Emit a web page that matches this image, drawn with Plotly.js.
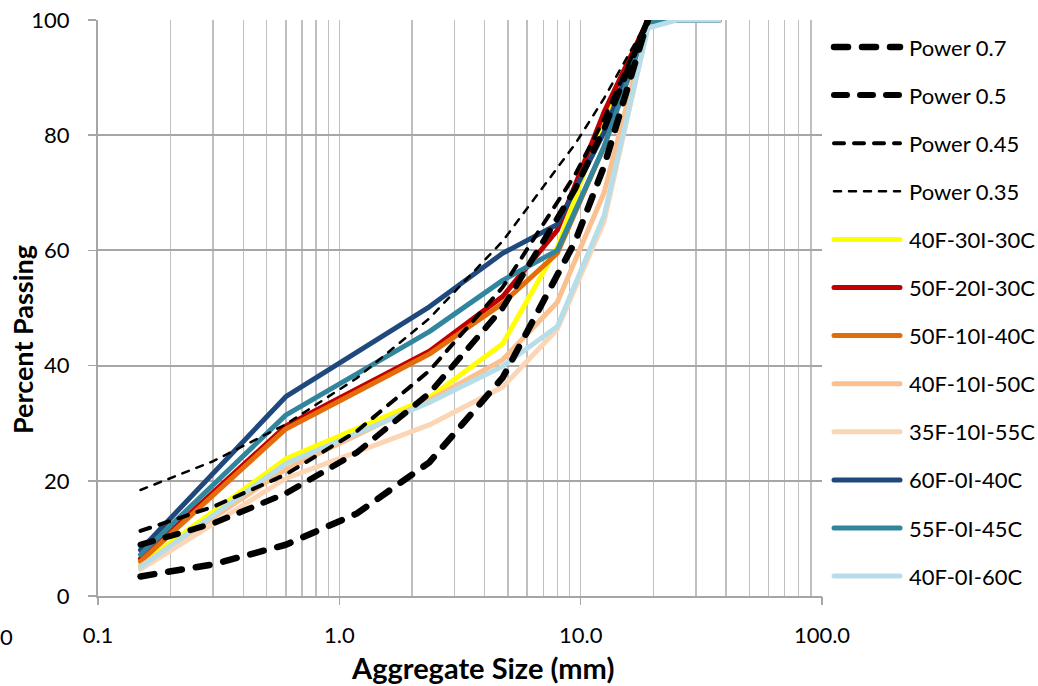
<!DOCTYPE html>
<html>
<head>
<meta charset="utf-8">
<script src="https://cdn.plot.ly/plotly-3.0.1.min.js"></script>
<style>
  html, body { margin: 0; padding: 0; background: #ffffff; }
  #chart { width: 1038px; height: 686px; }
  /* rounded dash ends and joints, as in the original spreadsheet chart */
  .scatterlayer .js-line { stroke-linecap: round; stroke-linejoin: round; }
  .shapelayer path { stroke-linecap: round; }
</style>
</head>
<body>
<div id="chart"></div>
<script>
// Sieve sizes (mm) for the maximum-density power curves
const powerSizes = [0.15, 0.3, 0.6, 1.18, 2.36, 4.75, 9.5, 12.5, 19];
const power07  = [3.4, 5.5, 8.9, 14.3, 23.2, 37.9, 61.6, 74.6, 100];
const power05  = [8.9, 12.6, 17.8, 24.9, 35.2, 50.0, 70.7, 81.1, 100];
const power045 = [11.3, 15.5, 21.1, 28.6, 39.1, 53.6, 73.2, 82.8, 100];
const power035 = [18.4, 23.4, 29.8, 37.8, 48.2, 61.6, 78.5, 86.4, 100];

// Sieve sizes (mm) for the blended gradations
const blendSizes = [0.15, 0.6, 2.36, 4.75, 8, 12.5, 19, 25, 37.5];
const blend40F30I30C = [5.5, 23.8, 34.4, 43.8, 60.5, 83.0, 100, 100, 100];
const blend50F20I30C = [6.5, 29.5, 42.5, 52.0, 63.5, 84.0, 100, 100, 100];
const blend50F10I40C = [6.0, 29.0, 42.0, 50.8, 59.5, 78.0, 99.8, 100, 100];
const blend40F10I50C = [5.2, 22.0, 34.0, 41.0, 51.0, 70.0, 99.5, 100, 100];
const blend35F10I55C = [4.6, 20.4, 29.7, 36.3, 46.3, 65.0, 99.0, 100, 100];
const blend60F0I40C  = [8.0, 34.6, 50.2, 59.5, 64.5, 80.5, 100, 100, 100];
const blend55F0I45C  = [7.2, 31.4, 45.9, 54.8, 60.0, 78.0, 99.6, 100, 100];
const blend40F0I60C  = [5.0, 23.0, 33.6, 39.9, 46.8, 66.0, 98.6, 100, 100];

const seriesNames = ['Power 0.7', 'Power 0.5', 'Power 0.45', 'Power 0.35',
  '40F-30I-30C', '50F-20I-30C', '50F-10I-40C', '40F-10I-50C',
  '35F-10I-55C', '60F-0I-40C', '55F-0I-45C', '40F-0I-60C'];

// Labelled decade ticks and the full set of log grid lines
const xTickVals = [0.1, 1, 10, 100];
const xTickText = ['0.1', '1.0', '10.0', '100.0'];
const xGridVals = [0.1, 0.2, 0.3, 0.4, 0.5, 0.6, 0.7, 0.8, 0.9,
  1, 2, 3, 4, 5, 6, 7, 8, 9, 10, 20, 30, 40, 50, 60, 70, 80, 90, 100];

// Line styling per series (same order as seriesNames)
const styles = [
  { color: '#000000', width: 6.5, dash: '14px,14px' },
  { color: '#000000', width: 6,   dash: '13px,13px' },
  { color: '#000000', width: 4,   dash: '10px,10px' },
  { color: '#000000', width: 2.5, dash: '7px,8px' },
  { color: '#FFFF00', width: 5, dash: 'solid' },
  { color: '#C00000', width: 5, dash: 'solid' },
  { color: '#E46C0A', width: 5, dash: 'solid' },
  { color: '#FAC090', width: 5, dash: 'solid' },
  { color: '#FCD5B5', width: 5, dash: 'solid' },
  { color: '#1F497D', width: 5, dash: 'solid' },
  { color: '#31859C', width: 5, dash: 'solid' },
  { color: '#B7DEE8', width: 5, dash: 'solid' }
];

const seriesData = [
  [powerSizes, power07], [powerSizes, power05], [powerSizes, power045], [powerSizes, power035],
  [blendSizes, blend40F30I30C], [blendSizes, blend50F20I30C], [blendSizes, blend50F10I40C],
  [blendSizes, blend40F10I50C], [blendSizes, blend35F10I55C], [blendSizes, blend60F0I40C],
  [blendSizes, blend55F0I45C], [blendSizes, blend40F0I60C]
];

function makeTrace(i, xa) {
  return {
    type: 'scatter', mode: 'lines', name: seriesNames[i],
    x: seriesData[i][0], y: seriesData[i][1], xaxis: xa, yaxis: 'y',
    line: { color: styles[i].color, width: styles[i].width, dash: styles[i].dash },
    showlegend: false, hoverinfo: 'x+y+name'
  };
}

// blends on the gridded axis; power curves on the labelled overlay, drawn on top
const traces = [];
for (let i = 4; i < seriesNames.length; i++) traces.push(makeTrace(i, 'x'));
for (let i = 0; i < 4; i++) traces.push(makeTrace(i, 'x2'));

// Plot frame in pixels
const W = 1038, H = 686;
const M = { l: 98, r: 216, t: 20, b: 90 };
const plotW = W - M.l - M.r, plotH = H - M.t - M.b;
const px = x => (x - M.l) / plotW;
const py = y => (H - M.b - y) / plotH;

const fontFam = 'Lato, "Open Sans", sans-serif';
const shapes = [];
const annotations = [];

// Legend drawn at the right of the plot
seriesNames.forEach((name, i) => {
  const yPix = 47 + i * 48.1;
  shapes.push({
    type: 'line', xref: 'paper', yref: 'paper',
    x0: px(834), x1: px(900), y0: py(yPix), y1: py(yPix),
    line: { color: styles[i].color, width: styles[i].width, dash: styles[i].dash }
  });
  annotations.push({
    xref: 'paper', yref: 'paper', x: px(907), y: py(yPix),
    xanchor: 'left', yanchor: 'middle', showarrow: false,
    text: name, font: { family: fontFam, size: 22, color: '#000000' }
  });
});

// Axis titles
annotations.push({
  xref: 'paper', yref: 'paper', x: px(482), y: py(667),
  xanchor: 'center', yanchor: 'middle', showarrow: false,
  text: '<b>Aggregate Size (mm)</b>', font: { family: fontFam, size: 29, color: '#000000' }
});
annotations.push({
  xref: 'paper', yref: 'paper', x: px(22), y: py(340),
  xanchor: 'center', yanchor: 'middle', showarrow: false, textangle: -90,
  text: '<b>Percent Passing</b>', font: { family: fontFam, size: 27, color: '#000000' }
});
// stray label at the lower-left edge
annotations.push({
  xref: 'paper', yref: 'paper', x: px(7), y: py(636),
  xanchor: 'center', yanchor: 'middle', showarrow: false,
  text: '0', font: { family: fontFam, size: 22, color: '#000000' }
});

const logRange = [-1, 2];
const layout = {
  width: W, height: H,
  margin: M,
  paper_bgcolor: '#ffffff', plot_bgcolor: '#ffffff',
  showlegend: false,
  font: { family: fontFam, size: 22, color: '#000000' },
  xaxis: {
    type: 'log', range: logRange,
    tickmode: 'array', tickvals: xGridVals,
    showticklabels: false, ticks: '',
    showgrid: true, gridcolor: '#BFBFBF', gridwidth: 1.5,
    showline: true, linecolor: '#A6A6A6', linewidth: 2,
    fixedrange: true
  },
  xaxis2: {
    type: 'log', range: logRange, overlaying: 'x', anchor: 'y', side: 'bottom',
    tickmode: 'array', tickvals: xTickVals, ticktext: xTickText,
    ticks: 'outside', ticklen: 8, tickwidth: 1.5, tickcolor: '#A6A6A6',
    ticklabelstandoff: 12,
    showgrid: false, showline: false, zeroline: false,
    tickfont: { family: fontFam, size: 22, color: '#000000' },
    fixedrange: true
  },
  yaxis: {
    range: [0, 100], tickmode: 'linear', tick0: 0, dtick: 20,
    ticks: 'outside', ticklen: 8, tickwidth: 1.5, tickcolor: '#A6A6A6',
    ticklabelstandoff: 14,
    showgrid: true, gridcolor: '#A6A6A6', gridwidth: 2,
    zeroline: false,
    showline: true, linecolor: '#A6A6A6', linewidth: 2,
    tickfont: { family: fontFam, size: 22, color: '#000000' },
    fixedrange: true
  },
  shapes: shapes,
  annotations: annotations
};

Plotly.newPlot('chart', traces, layout, { displayModeBar: false, staticPlot: true });
</script>
</body>
</html>
